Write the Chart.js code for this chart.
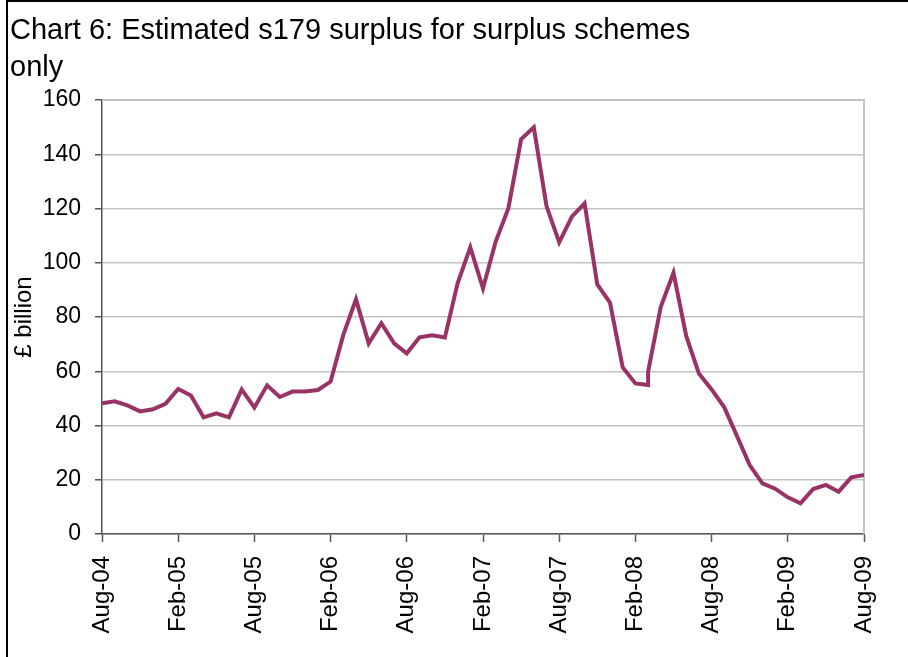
<!DOCTYPE html>
<html>
<head>
<meta charset="utf-8">
<script src="https://cdn.jsdelivr.net/npm/chart.js@4"></script>
<style>
    html, body { margin: 0; padding: 0; background: #ffffff; }
    #wrap { width: 908px; height: 657px; }
</style>
</head>
<body>
<div id="wrap"><canvas id="surplusChart" width="908" height="657"></canvas></div>
<script>
// months since Aug-04 (Mar-08 has two readings)
const monthIdx = [0, 1, 2, 3, 4, 5, 6, 7, 8, 9, 10, 11, 12, 13, 14, 15, 16, 17, 18, 19,
    20, 21, 22, 23, 24, 25, 26, 27, 28, 29, 30, 31, 32, 33, 34, 35, 36, 37, 38, 39,
    40, 41, 42, 43, 43, 44, 45, 46, 47, 48, 49, 50, 51, 52, 53, 54, 55, 56, 57, 58, 59, 60];
const surplus = [48.2, 48.9, 47.4, 45.2, 46.0, 48.0, 53.5, 51.1, 43.0, 44.5, 43.0, 53.3, 46.6, 54.8, 50.5, 52.5, 52.5, 53.1, 56.2, 73.4,
    86.5, 70.3, 77.7, 70.3, 66.6, 72.5, 73.3, 72.5, 92.4, 105.7, 90.6, 107.8, 120.1, 145.5, 149.9, 120.9, 107.5, 117.0, 121.9, 92.0,
    85.3, 61.4, 55.5, 54.9, 59.8, 83.8, 96.3, 73.0, 59.2, 53.3, 46.7, 36.1, 25.4, 18.7, 16.7, 13.5, 11.3, 16.6, 18.1, 15.6, 20.9, 21.8];
const tickLabels = ['Aug-04', 'Feb-05', 'Aug-05', 'Feb-06', 'Aug-06', 'Feb-07', 'Aug-07', 'Feb-08', 'Aug-08', 'Feb-09', 'Aug-09'];
const titleLines = ['Chart 6: Estimated s179 surplus for surplus schemes', 'only'];

const fontFamily = '"Liberation Sans", Arial, sans-serif';

let points = [];
monthIdx.forEach((m, i) => {
    points.push({x: m, y: surplus[i]});
});

// white page, black frame on the left/top, grey plot border
const frame = {
    id: 'frame',
    beforeDraw(chart) {
        const ctx = chart.ctx;
        ctx.save();
        ctx.fillStyle = '#ffffff';
        ctx.fillRect(0, 0, chart.width, chart.height);
        ctx.fillStyle = '#000000';
        ctx.fillRect(6, 0, 2, chart.height);
        ctx.fillRect(6, 0, chart.width, 2);
        ctx.restore();
    },
    beforeDatasetsDraw(chart) {
        const a = chart.chartArea;
        const ctx = chart.ctx;
        ctx.save();
        ctx.strokeStyle = '#c4c4c4';
        ctx.lineWidth = 2;
        ctx.beginPath();
        ctx.moveTo(a.left, a.top);
        ctx.lineTo(a.right, a.top);
        ctx.lineTo(a.right, a.bottom);
        ctx.stroke();
        ctx.restore();
    }
};

new Chart(document.getElementById('surplusChart'), {
    type: 'line',
    data: {
        datasets: [{
            data: points,
            borderColor: '#993366',
            backgroundColor: '#993366',
            borderWidth: 4,
            pointRadius: 0,
            tension: 0,
            fill: false
        }]
    },
    options: {
        responsive: false,
        animation: false,
        layout: {padding: {left: 10, right: 44, top: 0, bottom: 0}},
        plugins: {
            legend: {display: false},
            tooltip: {enabled: false},
            title: {
                display: true,
                text: titleLines,
                align: 'start',
                color: '#000000',
                font: {family: fontFamily, size: 29, weight: 'normal', lineHeight: 1.276},
                padding: {top: 12.5, bottom: 13.5}
            }
        },
        scales: {
            x: {
                type: 'linear',
                min: 0,
                max: 60,
                afterFit: scale => { scale.height = 123; },
                border: {color: '#555555', width: 1.5},
                grid: {drawOnChartArea: false, drawTicks: true, tickLength: 8, tickColor: '#555555', tickWidth: 1.5},
                ticks: {
                    stepSize: 6,
                    autoSkip: false,
                    maxRotation: 90,
                    minRotation: 90,
                    padding: 14,
                    color: '#000000',
                    font: {family: fontFamily, size: 24},
                    callback: value => tickLabels[value / 6]
                }
            },
            y: {
                min: 0,
                max: 160,
                afterFit: scale => { scale.width = 92; },
                border: {color: '#555555', width: 1.5},
                grid: {color: '#c4c4c4', lineWidth: 1.5, tickLength: 7, tickColor: '#555555', tickWidth: 1.5},
                ticks: {
                    stepSize: 20,
                    padding: 14,
                    color: '#000000',
                    font: {family: fontFamily, size: 23}
                },
                title: {
                    display: true,
                    text: '£ billion',
                    color: '#000000',
                    font: {family: fontFamily, size: 24},
                    padding: {top: 0, bottom: 0}
                }
            }
        }
    },
    plugins: [frame]
});
</script>
</body>
</html>
